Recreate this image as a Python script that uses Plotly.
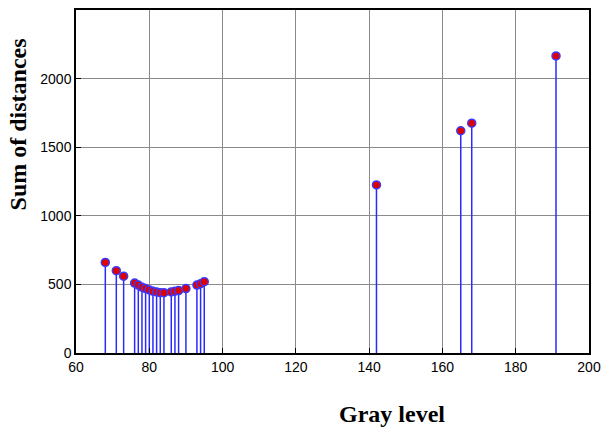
import plotly.graph_objects as go

gray_level = [68, 71, 73, 76, 77, 78, 79, 80, 81, 82, 83, 84, 86, 87, 88, 90,
              93, 94, 95, 142, 165, 168, 191]
sum_dist = [660, 600, 560, 510, 495, 480, 470, 460, 450, 445, 440, 440, 445,
            450, 455, 470, 495, 505, 520, 1225, 1620, 1675, 2165]

x_ticks = [60, 80, 100, 120, 140, 160, 180, 200]
y_ticks = [0, 500, 1000, 1500, 2000]

sx, sy = [], []
for g, s in zip(gray_level, sum_dist):
    sx += [g, g, None]
    sy += [0, s, None]

fig = go.Figure()
fig.add_trace(go.Scatter(x=sx, y=sy, mode="lines",
                         line=dict(color="#2a2aff", width=1.5),
                         hoverinfo="skip", showlegend=False))
fig.add_trace(go.Scatter(x=gray_level, y=sum_dist, mode="markers",
                         marker=dict(color="#e00000", size=8,
                                     line=dict(color="#3a3aff", width=1.5)),
                         showlegend=False))

axis_common = dict(showgrid=True, gridcolor="#8a8a8a", gridwidth=1,
                   showline=True, linecolor="black", linewidth=1.5, mirror=True,
                   ticks="inside", ticklen=5, tickcolor="black", zeroline=False,
                   automargin=False,
                   tickfont=dict(family="Liberation Sans, Arial", size=14, color="black"))

fig.update_xaxes(range=[60, 200], tickvals=x_ticks, **axis_common)
fig.update_yaxes(range=[0, 2500], tickvals=y_ticks, **axis_common)

title_font = dict(family="Liberation Serif, Times New Roman", size=24, color="black")
fig.add_annotation(text="<b>Gray level</b>", xref="paper", yref="paper",
                   x=0.616, y=-0.178, xanchor="center", yanchor="middle",
                   showarrow=False, font=title_font)
fig.add_annotation(text="<b>Sum of distances</b>", xref="paper", yref="paper",
                   x=-0.114, y=0.665, xanchor="center", yanchor="middle",
                   textangle=-90, showarrow=False, font=title_font)

fig.update_layout(width=604, height=428, margin=dict(l=76, r=15, t=10, b=75),
                  plot_bgcolor="white", paper_bgcolor="white")

fig.write_html("out.html")
